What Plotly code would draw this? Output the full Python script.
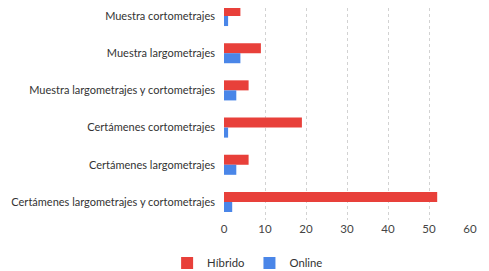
import plotly.graph_objects as go

categories = [
    "Muestra cortometrajes",
    "Muestra largometrajes",
    "Muestra largometrajes y cortometrajes",
    "Certámenes cortometrajes",
    "Certámenes largometrajes",
    "Certámenes largometrajes y cortometrajes",
]
hibrido = [4, 9, 6, 19, 6, 52]
online = [1, 4, 3, 1, 3, 2]
x_ticks = [0, 10, 20, 30, 40, 50, 60]

fig = go.Figure()
fig.add_trace(go.Bar(y=categories, x=hibrido, orientation="h", name="Híbrido",
                     marker=dict(color="#e8403a", line=dict(width=0))))
fig.add_trace(go.Bar(y=categories, x=online, orientation="h", name="Online",
                     marker=dict(color="#4a86e8", line=dict(width=0))))

fig.update_layout(
    width=489, height=271,
    paper_bgcolor="white", plot_bgcolor="white",
    font=dict(family="Lato, sans-serif", size=11, color="#333333"),
    barmode="group", bargap=0.46, bargroupgap=0,
    margin=dict(l=216, r=27, t=0, b=59, autoexpand=False),
    showlegend=True,
    legend=dict(orientation="h", xref="container", x=0.49, xanchor="center",
                yref="container", y=0.059, yanchor="middle",
                itemwidth=30, font=dict(size=11.3)),
    xaxis=dict(range=[0, 60], tickvals=x_ticks, showgrid=True, gridcolor="#d2d2d2",
               griddash="dot", gridwidth=1, zeroline=False, showline=False,
               ticks="", automargin=False, tickfont=dict(size=11.5, color="#444444")),
    yaxis=dict(categoryorder="array", categoryarray=categories, range=[5.485, -0.215],
               ticks="", ticklabelstandoff=8, showline=False, automargin=False,
               tickfont=dict(size=11, color="#333333")),
)
fig.write_html("out.html")
